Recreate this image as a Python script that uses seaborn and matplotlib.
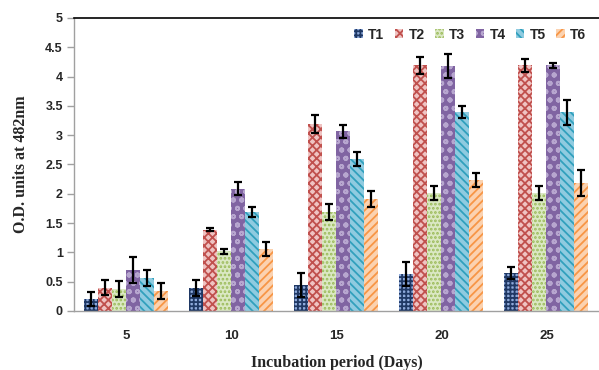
import numpy as np
import pandas as pd
import matplotlib
matplotlib.use('Agg')
import matplotlib.pyplot as plt
import seaborn as sns

# Incubation period (days) on the x axis
days = ['5', '10', '15', '20', '25']
treatments = ['T1', 'T2', 'T3', 'T4', 'T5', 'T6']

# O.D. at 482nm, one list per treatment
t1 = [0.20, 0.39, 0.44, 0.63, 0.65]
t2 = [0.40, 1.39, 3.19, 4.19, 4.19]
t3 = [0.38, 1.02, 1.69, 2.02, 2.02]
t4 = [0.70, 2.09, 3.07, 4.18, 4.19]
t5 = [0.56, 1.69, 2.59, 3.39, 3.39]
t6 = [0.34, 1.05, 1.91, 2.24, 2.19]

# error bar half-lengths
t1_err = [0.12, 0.14, 0.20, 0.21, 0.10]
t2_err = [0.13, 0.03, 0.16, 0.14, 0.11]
t3_err = [0.14, 0.04, 0.13, 0.12, 0.12]
t4_err = [0.22, 0.11, 0.11, 0.20, 0.05]
t5_err = [0.14, 0.08, 0.12, 0.10, 0.21]
t6_err = [0.13, 0.12, 0.14, 0.12, 0.22]

values = [t1, t2, t3, t4, t5, t6]
errors = [t1_err, t2_err, t3_err, t4_err, t5_err, t6_err]

# fill colour, hatch colour, hatch pattern per treatment
face_colors = ['#8eaadb', '#efc3c2', '#dbe8c4', '#8064a2', '#8fcbe0', '#fbd2b0']
hatch_colors = ['#1f3864', '#c0504d', '#9bbb59', '#b7a6cf', '#31a0bd', '#f79646']
hatches = ['++++', 'xxxx', '....', 'oo', '\\\\\\\\', '////']

rows = []
for name, vals, errs in zip(treatments, values, errors):
    for d, v, e in zip(days, vals, errs):
        rows.append({'Days': d, 'Treatment': name, 'OD': v, 'err': e})
df = pd.DataFrame(rows)

sns.set_style('white')
plt.rcParams['font.family'] = ['Liberation Sans', 'DejaVu Sans']
plt.rcParams['hatch.linewidth'] = 1.3

fig = plt.figure(figsize=(5.99, 3.70), dpi=100)
ax = fig.add_axes([0.1235, 0.1595, 0.8765, 0.7919])

sns.barplot(data=df, x='Days', y='OD', hue='Treatment', order=days,
            hue_order=treatments, palette=face_colors, errorbar=None,
            width=0.8, ax=ax, saturation=1)

# style bars and add error bars
bar_groups = list(ax.containers)
for k, cont in enumerate(bar_groups):
    for bar in cont.patches:
        bar.set_facecolor(face_colors[k])
        bar.set_edgecolor(hatch_colors[k])
        bar.set_linewidth(0)
        bar.set_hatch(hatches[k])
    xs = [b.get_x() + b.get_width() / 2 for b in cont.patches]
    ax.errorbar(xs, values[k], yerr=errors[k], fmt='none', ecolor='black',
                elinewidth=1.6, capsize=3, capthick=1.6, zorder=5)

ax.set_ylim(0, 5)
ax.set_xlim(-0.5, 4.5)
ax.set_yticks(np.arange(0, 5.01, 0.5))
ax.set_yticklabels(['0', '0.5', '1', '1.5', '2', '2.5', '3', '3.5', '4', '4.5', '5'],
                   fontsize=9, fontweight='bold')
ax.set_xticklabels(days, fontsize=9.5, fontweight='bold')
ax.set_xticks(np.arange(0.5, 4.5, 1), minor=True)
ax.tick_params(axis='x', which='major', length=0, pad=14)
ax.tick_params(axis='x', which='minor', length=5, width=1, color='#a0a0a0', direction='out')
ax.tick_params(axis='y', length=5, width=1, color='#a0a0a0', direction='out', left=True, pad=3)

ax.set_xlabel('Incubation period (Days)', fontsize=11.5, fontweight='bold',
              family='Liberation Serif', labelpad=9)
ax.set_ylabel('O.D. units at 482nm', fontsize=11.5, fontweight='bold',
              family='Liberation Serif', labelpad=12)

for s in ['left', 'bottom']:
    ax.spines[s].set_color('#a0a0a0')
    ax.spines[s].set_linewidth(1)
ax.spines['top'].set_color('black')
ax.spines['top'].set_linewidth(1.2)
ax.spines['right'].set_visible(False)

leg = ax.legend(loc='upper right', ncol=6, frameon=False,
                prop={'weight': 'bold', 'size': 10}, handlelength=0.6,
                handleheight=0.6, handletextpad=0.4, columnspacing=0.75,
                bbox_to_anchor=(1.0, 1.01))
for h, fc, hc, ht in zip(leg.legend_handles, face_colors, hatch_colors, hatches):
    h.set_facecolor(fc)
    h.set_edgecolor(hc)
    h.set_linewidth(0)
    h.set_hatch(ht)

fig.savefig('out.png', dpi=100)
